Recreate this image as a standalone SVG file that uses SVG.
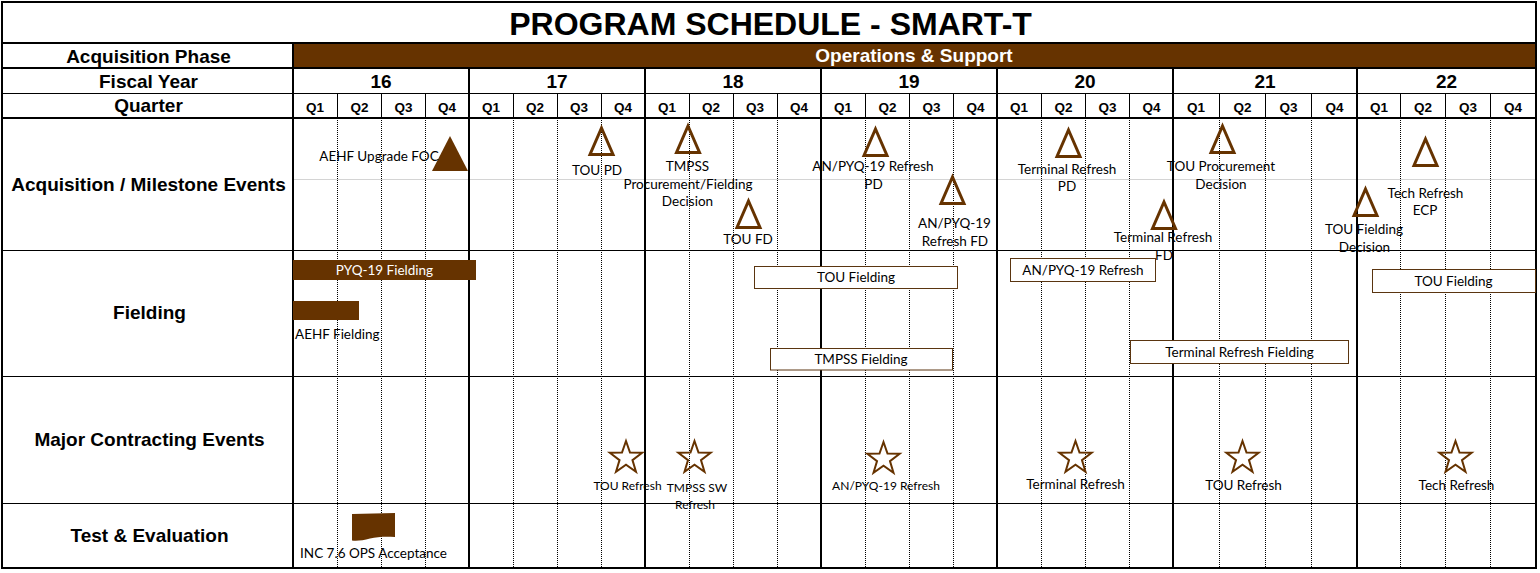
<svg xmlns="http://www.w3.org/2000/svg" xmlns:xlink="http://www.w3.org/1999/xlink" width="1540" height="573" viewBox="0 0 1540 573">
<style>
.hd{font-family:"Liberation Sans",Arial,sans-serif;font-weight:bold;fill:#000;text-anchor:middle}
.t{font-size:32px}
.h{font-size:19px}
.q{font-size:13.5px}
.lb{font-family:Lato,"Liberation Sans",sans-serif;font-size:13.5px;fill:#000;text-anchor:middle}
.sm{font-size:12px}
.wt{fill:#fff}
.thick{stroke:#000;stroke-width:2;fill:none}
.thin{stroke:#000;stroke-width:1;fill:none}
.dot{stroke:#000;stroke-width:1;stroke-dasharray:1 1;fill:none}
.bar{fill:#663300}
.box{fill:#fff;stroke:#5a3510;stroke-width:1}
.tri{fill:none;stroke:#663300;stroke-width:3;stroke-linejoin:miter}
.star{fill:none;stroke:#663300;stroke-width:2;stroke-linejoin:miter}
</style>
<defs>
<path id="tri" d="M0,4 L11.5,30.5 L-11.5,30.5 Z"/>
<path id="star" d="M0,-17 L4,-5.5 L16.17,-5.25 L6.47,2.1 L9.99,13.75 L0,6.8 L-9.99,13.75 L-6.47,2.1 L-16.17,-5.25 L-4,-5.5 Z"/>
</defs>
<rect x="0" y="0" width="1540" height="573" fill="#fff"/>

<g id="grid">
<rect class="bar" x="293" y="43" width="1243" height="25"/>
<line x1="293" y1="179.5" x2="1536" y2="179.5" stroke="#d4d4d4" stroke-width="1"/>
<g class="dot">
<path d="M337.5,118V568M381.5,118V568M425.5,118V568M513.5,118V568M557.5,118V568M601.5,118V568M689.5,118V568M733.5,118V568M777.5,118V568M865.5,118V568M909.5,118V568M953.5,118V568M1041.5,118V568M1085.5,118V568M1129.5,118V568M1219.5,118V568M1265.5,118V568M1311.5,118V568M1400.5,118V568M1445.5,118V568M1490.5,118V568"/>
</g>
<g class="thin">
<path d="M337.5,93V118M381.5,93V118M425.5,93V118M513.5,93V118M557.5,93V118M601.5,93V118M689.5,93V118M733.5,93V118M777.5,93V118M865.5,93V118M909.5,93V118M953.5,93V118M1041.5,93V118M1085.5,93V118M1129.5,93V118M1219.5,93V118M1265.5,93V118M1311.5,93V118M1400.5,93V118M1445.5,93V118M1490.5,93V118"/>
<path d="M2,93.5H1536M2,250.5H1536M2,376.5H1536M2,503.5H1536"/>
</g>
<g class="thick">
<path d="M2,43H1536M2,68H1536M2,118H1536"/>
<path d="M293,43V568M469,68V568M645,68V568M821,68V568M997,68V568M1173,68V568M1357,68V568"/>
<rect x="2" y="2" width="1534" height="566"/>
</g>
</g>

<g id="header">
<text class="hd t" x="770.5" y="35">PROGRAM SCHEDULE - SMART-T</text>
<text class="hd h" x="148.5" y="62.5">Acquisition Phase</text>
<text class="hd h wt" x="914" y="62">Operations &amp; Support</text>
<text class="hd h" x="148.5" y="87.5">Fiscal Year</text>
<text class="hd h" x="381" y="87.5">16</text>
<text class="hd h" x="557" y="87.5">17</text>
<text class="hd h" x="733" y="87.5">18</text>
<text class="hd h" x="909" y="87.5">19</text>
<text class="hd h" x="1085" y="87.5">20</text>
<text class="hd h" x="1265" y="87.5">21</text>
<text class="hd h" x="1446.5" y="87.5">22</text>
<text class="hd h" x="148.5" y="112">Quarter</text>
<g class="hd q">
<text x="315" y="111.5">Q1</text><text x="359.5" y="111.5">Q2</text><text x="403.5" y="111.5">Q3</text><text x="447" y="111.5">Q4</text>
<text x="491" y="111.5">Q1</text><text x="535" y="111.5">Q2</text><text x="579" y="111.5">Q3</text><text x="623" y="111.5">Q4</text>
<text x="667" y="111.5">Q1</text><text x="711" y="111.5">Q2</text><text x="755" y="111.5">Q3</text><text x="799" y="111.5">Q4</text>
<text x="843" y="111.5">Q1</text><text x="887.5" y="111.5">Q2</text><text x="931.5" y="111.5">Q3</text><text x="975.5" y="111.5">Q4</text>
<text x="1019" y="111.5">Q1</text><text x="1063.5" y="111.5">Q2</text><text x="1107.5" y="111.5">Q3</text><text x="1151.5" y="111.5">Q4</text>
<text x="1196" y="111.5">Q1</text><text x="1242.5" y="111.5">Q2</text><text x="1288.5" y="111.5">Q3</text><text x="1334.5" y="111.5">Q4</text>
<text x="1379" y="111.5">Q1</text><text x="1423" y="111.5">Q2</text><text x="1468" y="111.5">Q3</text><text x="1513" y="111.5">Q4</text>
</g>
<text class="hd h" x="148.5" y="191">Acquisition / Milestone Events</text>
<text class="hd h" x="149.5" y="319">Fielding</text>
<text class="hd h" x="149.5" y="446">Major Contracting Events</text>
<text class="hd h" x="149.5" y="542">Test &amp; Evaluation</text>
</g>

<g id="connectors"></g>

<g id="aehf-upgrade-foc">
<polygon class="bar" points="432,171 450,136 468,171"/>
<text class="lb" x="379" y="161">AEHF Upgrade FOC</text>
</g>
<g id="tou-pd">
<use xlink:href="#tri" class="tri" x="601.5" y="124"/>
<text class="lb" x="597" y="175">TOU PD</text>
</g>
<g id="tmpss-decision">
<use xlink:href="#tri" class="tri" x="688" y="122"/>
<text class="lb" x="687.5" y="171">TMPSS</text>
<text class="lb" x="688" y="188.5">Procurement/Fielding</text>
<text class="lb" x="687.5" y="206">Decision</text>
</g>
<g id="tou-fd">
<use xlink:href="#tri" class="tri" x="748.5" y="197"/>
<text class="lb" x="748" y="243.5">TOU FD</text>
</g>
<g id="pyq-refresh-pd">
<use xlink:href="#tri" class="tri" x="875.5" y="125"/>
<text class="lb" x="873" y="171">AN/PYQ-19 Refresh</text>
<text class="lb" x="873.5" y="189">PD</text>
</g>
<g id="pyq-refresh-fd">
<use xlink:href="#tri" class="tri" x="952.5" y="173"/>
<text class="lb" x="954.5" y="228">AN/PYQ-19</text>
<text class="lb" x="955" y="246">Refresh FD</text>
</g>
<g id="terminal-refresh-pd">
<use xlink:href="#tri" class="tri" x="1068.5" y="126"/>
<text class="lb" x="1067" y="173.5">Terminal Refresh</text>
<text class="lb" x="1067" y="191">PD</text>
</g>
<g id="terminal-refresh-fd">
<use xlink:href="#tri" class="tri" x="1164" y="198"/>
<text class="lb" x="1163" y="242">Terminal Refresh</text>
<text class="lb" x="1164" y="259.5">FD</text>
</g>
<g id="tou-procurement-decision">
<use xlink:href="#tri" class="tri" x="1222.5" y="122"/>
<text class="lb" x="1221" y="171">TOU Procurement</text>
<text class="lb" x="1221" y="188.5">Decision</text>
</g>
<g id="tou-fielding-decision">
<use xlink:href="#tri" class="tri" x="1365.5" y="185"/>
<text class="lb" x="1364" y="234">TOU Fielding</text>
<text class="lb" x="1364.5" y="252">Decision</text>
</g>
<g id="tech-refresh-ecp">
<use xlink:href="#tri" class="tri" x="1425.5" y="135"/>
<text class="lb" x="1425.5" y="198">Tech Refresh</text>
<text class="lb" x="1425" y="215">ECP</text>
</g>

<g id="pyq19-fielding">
<rect class="bar" x="293" y="260" width="183" height="20"/>
<text class="lb wt" x="384.5" y="275">PYQ-19 Fielding</text>
</g>
<g id="aehf-fielding">
<rect class="bar" x="293" y="301" width="66" height="19"/>
<text class="lb" x="295" y="338.5" style="text-anchor:start">AEHF Fielding</text>
</g>
<g id="tou-fielding-1">
<rect class="box" x="754.5" y="266.5" width="203" height="22"/>
<text class="lb" x="856" y="282">TOU Fielding</text>
</g>
<g id="tmpss-fielding">
<rect class="box" x="770.5" y="348.5" width="182" height="21.5"/>
<text class="lb" x="861" y="364">TMPSS Fielding</text>
</g>
<g id="pyq-refresh-fielding">
<rect class="box" x="1010.5" y="258.5" width="145" height="23"/>
<text class="lb" x="1083" y="275">AN/PYQ-19 Refresh</text>
</g>
<g id="terminal-refresh-fielding">
<rect class="box" x="1130.5" y="340.5" width="218" height="23"/>
<text class="lb" x="1239.5" y="357">Terminal Refresh Fielding</text>
</g>
<g id="tou-fielding-2">
<rect class="box" x="1372.5" y="269.5" width="163" height="23"/>
<text class="lb" x="1453.5" y="286">TOU Fielding</text>
</g>

<g id="tou-refresh-contract">
<use xlink:href="#star" class="star" x="626" y="458"/>
<text class="lb sm" x="627.5" y="489.5">TOU Refresh</text>
</g>
<g id="tmpss-sw-refresh">
<use xlink:href="#star" class="star" x="694.5" y="458"/>
<text class="lb sm" x="697" y="492">TMPSS SW</text>
<text class="lb sm" x="695" y="509">Refresh</text>
</g>
<g id="pyq-refresh-contract">
<use xlink:href="#star" class="star" x="883.5" y="459"/>
<text class="lb sm" x="886" y="490">AN/PYQ-19 Refresh</text>
</g>
<g id="terminal-refresh-contract">
<use xlink:href="#star" class="star" x="1075.5" y="458"/>
<text class="lb" x="1075.5" y="488.5">Terminal Refresh</text>
</g>
<g id="tou-refresh-contract-2">
<use xlink:href="#star" class="star" x="1242.5" y="458"/>
<text class="lb" x="1243.5" y="489.5">TOU Refresh</text>
</g>
<g id="tech-refresh-contract">
<use xlink:href="#star" class="star" x="1455.5" y="458"/>
<text class="lb" x="1456.5" y="489.5">Tech Refresh</text>
</g>

<g id="inc76-ops-acceptance">
<path class="bar" d="M352,514 L395,513 L395,537 C386,536.5 378,536.5 370,538.5 C363,540.5 357,541 352,540.5 Z"/>
<text class="lb" x="373.5" y="558">INC 7.6 OPS Acceptance</text>
</g>
</svg>
